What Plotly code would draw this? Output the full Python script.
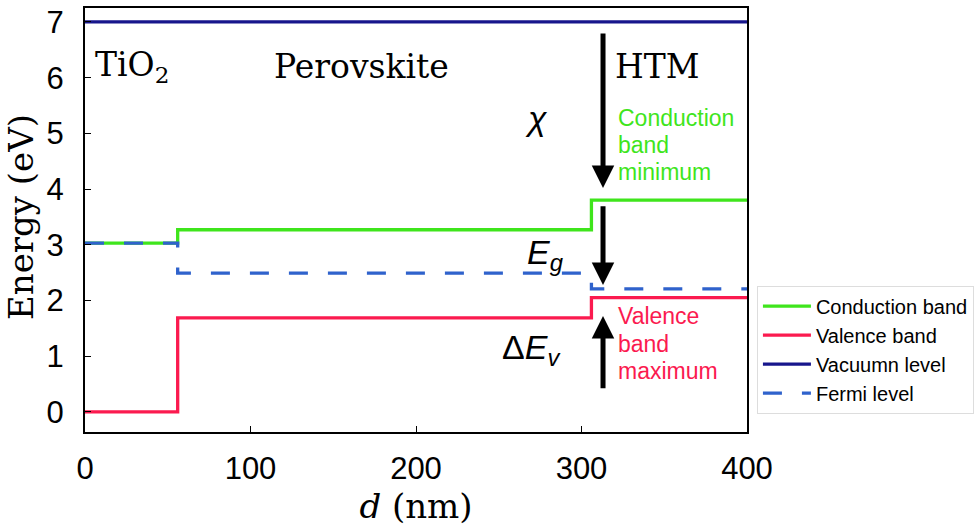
import plotly.graph_objects as go

x_steps = [0, 56, 306, 400]
conduction = [3.03, 3.27, 3.8, 3.8]
valence = [0.0, 1.69, 2.05, 2.05]
vacuum = [7.0, 7.0, 7.0, 7.0]
fermi = [3.03, 2.49, 2.21, 2.21]

x_ticks = [0, 100, 200, 300, 400]
y_ticks = [0, 1, 2, 3, 4, 5, 6, 7]

green = "#3fe51c"
red = "#fb1a4f"
navy = "#17168c"
blue = "#2f62cc"

fig = go.Figure()
fig.add_trace(go.Scatter(x=x_steps, y=conduction, mode="lines", line_shape="hv",
                         line=dict(color=green, width=3.3), name="Conduction band"))
fig.add_trace(go.Scatter(x=x_steps, y=valence, mode="lines", line_shape="hv",
                         line=dict(color=red, width=3.3), name="Valence band"))
fig.add_trace(go.Scatter(x=x_steps, y=vacuum, mode="lines", line_shape="hv",
                         line=dict(color=navy, width=3.3), name="Vacuumn level"))
fig.add_trace(go.Scatter(x=x_steps, y=fermi, mode="lines", line_shape="hv",
                         line=dict(color=blue, width=3.3, dash="19px,20px"), name="Fermi level"))

serif = "DejaVu Serif"
sans = "Liberation Sans"

annotations = []
# arrows
for (x0, y0, x1, y1) in [(313, 6.82, 313, 4.02), (313, 3.72, 313, 2.28), (313, 0.4, 313, 1.72)]:
    annotations.append(dict(x=x1, y=y1, ax=x0, ay=y0, xref="x", yref="y", axref="x", ayref="y",
                            showarrow=True, arrowhead=2, arrowsize=0.9, arrowwidth=5,
                            arrowcolor="black", text=""))

labels = [
    (5, 6.2, "TiO<sub>2</sub>", serif, 33, "black", "left"),
    (167, 6.2, "Perovskite", serif, 33, "black", "center"),
    (319, 6.2, "HTM", serif, 33, "black", "left"),
    (273, 5.28, "<i>χ</i>", sans, 34, "black", "center"),
    (278, 2.82, "<i>E<sub>g</sub></i>", sans, 34, "black", "center"),
    (270, 1.12, "Δ<i>E<sub>v</sub></i>", sans, 34, "black", "center"),
]
for (x, y, t, f, s, c, al) in labels:
    annotations.append(dict(x=x, y=y, xref="x", yref="y", text=t, showarrow=False,
                            font=dict(family=f, size=s, color=c), xanchor=al, yanchor="middle"))

cbm_lines = [("Conduction", 5.28), ("band", 4.79), ("minimum", 4.31)]
vbm_lines = [("Valence", 1.72), ("band", 1.22), ("maximum", 0.74)]
for t, y in cbm_lines:
    annotations.append(dict(x=321, y=y, xref="x", yref="y", text=t, showarrow=False,
                            xanchor="left", yanchor="middle",
                            font=dict(family=sans, size=23, color=green)))
for t, y in vbm_lines:
    annotations.append(dict(x=321, y=y, xref="x", yref="y", text=t, showarrow=False,
                            xanchor="left", yanchor="middle",
                            font=dict(family=sans, size=23, color=red)))

# y-axis title as rotated annotation
annotations.append(dict(x=-0.0967, y=0.507, xref="paper", yref="paper", text="Energy (eV)",
                        textangle=-90, showarrow=False, xanchor="center", yanchor="middle",
                        font=dict(family=serif, size=34, color="black")))

fig.update_layout(
    width=980, height=527,
    margin=dict(l=85, r=233, t=8, b=95, autoexpand=False),
    plot_bgcolor="white", paper_bgcolor="white",
    showlegend=True,
    legend=dict(x=1.015, y=0.345, xanchor="left", yanchor="top",
                font=dict(family=sans, size=20, color="black"),
                itemwidth=48,
                bordercolor="#dddddd", borderwidth=1, bgcolor="white"),
    annotations=annotations,
    xaxis=dict(range=[0, 400], tickvals=x_ticks, ticks="inside", ticklen=6, tickcolor="black",
               showline=True, linecolor="black", linewidth=2, mirror=True, showgrid=False,
               zeroline=False, automargin=False, ticklabelstandoff=8, ticklabeloverflow="allow",
               tickfont=dict(family=sans, size=31, color="black"),
               title=dict(text="<i>d</i> (nm)", font=dict(family=serif, size=34, color="black"), standoff=4)),
    yaxis=dict(range=[-0.36, 7.25], tickvals=y_ticks, ticks="inside", ticklen=6, tickcolor="black",
               showline=True, linecolor="black", linewidth=2, mirror=True, showgrid=False,
               zeroline=False, automargin=False, ticklabelstandoff=13, ticklabeloverflow="allow",
               tickfont=dict(family=sans, size=31, color="black")),
)

fig.write_html("out.html", config={"displayModeBar": False},
               post_script="document.body.style.margin='0';")
